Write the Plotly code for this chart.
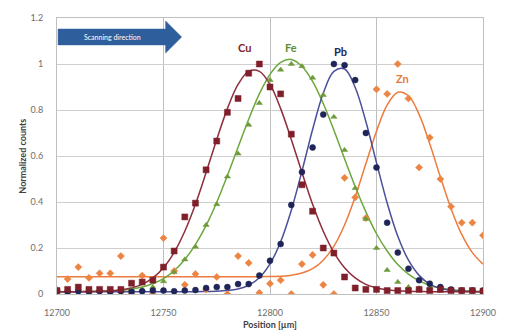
import plotly.graph_objects as go

# ---- data ----
position = [12700 + 5 * i for i in range(41)]

cu_points = [0.015, 0.02, 0.03, 0.02, 0.02, 0.02, 0.02, 0.047, 0.052, 0.06,
             0.117, 0.187, 0.335, 0.395, 0.54, 0.665, 0.79, 0.85, 0.96, 1.0,
             0.9, 0.87, 0.695, 0.475, 0.36, 0.2, 0.178, 0.074, 0.026, 0.02,
             0.02, 0.015, 0.015, 0.015, 0.02, 0.015, 0.02, 0.015, 0.015, 0.015, 0.012]
fe_points = [0.01, 0.01, 0.015, 0.01, 0.015, 0.01, 0.015, 0.02, 0.02, 0.03,
             0.055, 0.095, 0.15, 0.205, 0.30, 0.39, 0.51, 0.61, 0.735, 0.83,
             0.93, 0.975, 1.0, 0.99, 0.94, 0.865, 0.77, 0.626, 0.46, 0.326,
             0.2, 0.104, 0.052, 0.03, 0.025, 0.03, 0.025, 0.02, 0.015, 0.015, 0.015]
pb_points = [0.012, 0.01, 0.012, 0.01, 0.012, 0.01, 0.012, 0.01, 0.012, 0.015,
             0.015, 0.012, 0.015, 0.017, 0.026, 0.03, 0.03, 0.043, 0.043, 0.08,
             0.145, 0.217, 0.387, 0.53, 0.637, 0.78, 1.0, 0.995, 0.93, 0.70,
             0.55, 0.31, 0.18, 0.11, 0.06, 0.045, 0.03, 0.02, 0.015, 0.015, 0.015]
zn_points = [0.017, 0.065, 0.117, 0.07, 0.09, 0.09, 0.165, 0.0, 0.08, 0.0,
             0.243, 0.1, 0.04, 0.087, 0.02, 0.074, 0.0, 0.165, 0.135, 0.005,
             0.045, 0.06, 0.0, 0.13, 0.17, 0.04, 0.0, 0.505, 0.42, 0.33,
             0.89, 0.87, 1.0, 0.85, 0.55, 0.68, 0.50, 0.38, 0.31, 0.31, 0.255]

# fitted curves (at 5 µm steps)
cu_fit = [0.01, 0.01, 0.01, 0.011, 0.012, 0.014, 0.018, 0.027, 0.042, 0.070,
          0.114, 0.181, 0.273, 0.390, 0.528, 0.672, 0.806, 0.911, 0.968, 0.968,
          0.911, 0.806, 0.672, 0.528, 0.390, 0.273, 0.181, 0.114, 0.070, 0.042,
          0.027, 0.018, 0.014, 0.012, 0.011, 0.01, 0.01, 0.01, 0.01, 0.01, 0.01]
fe_fit = [0.01, 0.01, 0.01, 0.011, 0.012, 0.013, 0.016, 0.021, 0.030, 0.045,
          0.067, 0.101, 0.150, 0.215, 0.298, 0.399, 0.515, 0.638, 0.760, 0.870,
          0.955, 1.007, 1.02, 0.990, 0.924, 0.828, 0.712, 0.588, 0.467, 0.357,
          0.262, 0.187, 0.128, 0.086, 0.057, 0.038, 0.026, 0.019, 0.015, 0.012, 0.011]
pb_fit = [0.01, 0.01, 0.01, 0.01, 0.01, 0.01, 0.01, 0.01, 0.01, 0.01,
          0.01, 0.01, 0.01, 0.01, 0.011, 0.012, 0.015, 0.022, 0.038, 0.071,
          0.131, 0.227, 0.364, 0.534, 0.715, 0.873, 0.968, 0.978, 0.898, 0.750,
          0.571, 0.396, 0.251, 0.147, 0.081, 0.043, 0.024, 0.016, 0.012, 0.011, 0.01]
zn_fit = [0.075, 0.075, 0.075, 0.075, 0.075, 0.075, 0.075, 0.075, 0.075, 0.075,
          0.075, 0.075, 0.075, 0.075, 0.075, 0.075, 0.075, 0.075, 0.075, 0.075,
          0.076, 0.077, 0.082, 0.091, 0.110, 0.147, 0.208, 0.300, 0.423, 0.566,
          0.708, 0.821, 0.877, 0.862, 0.781, 0.653, 0.508, 0.371, 0.259, 0.180, 0.130]

x_ticks = [12700, 12750, 12800, 12850, 12900]
x_tick_labels = ["12700", "12750", "12800", "12850", "12900"]
y_ticks = [0, 0.2, 0.4, 0.6, 0.8, 1.0, 1.2]
y_tick_labels = ["0", "0.2", "0.4", "0.6", "0.8", "1", "1.2"]

FONT = "Lato, Open Sans, sans-serif"

series = [
    ("Zn", zn_points, zn_fit, "#EC8443", "#EE7B3E", "diamond", 5.5),
    ("Fe", fe_points, fe_fit, "#6E9B3A", "#6CA83C", "triangle-up", 5.5),
    ("Pb", pb_points, pb_fit, "#1F2558", "#4C4F99", "circle", 6),
    ("Cu", cu_points, cu_fit, "#7E1F2A", "#8E2D3C", "square", 6),
]

fig = go.Figure()
for name, pts, fit, mcol, lcol, sym, size in series:
    fig.add_trace(go.Scatter(x=position, y=fit, mode="lines", line=dict(color=lcol, width=1.5, shape="spline"),
                             name=name + " fit", showlegend=False, hoverinfo="skip"))
for name, pts, fit, mcol, lcol, sym, size in series:
    fig.add_trace(go.Scatter(x=position, y=pts, mode="markers",
                             marker=dict(symbol=sym, size=size, color=mcol,
                                         line=dict(color=mcol, width=0.5)),
                             name=name, showlegend=False))

labels = [("Cu", 12788, 1.07, "#7E1F2A"), ("Fe", 12810, 1.07, "#5E8F2E"),
          ("Pb", 12833, 1.055, "#1F2558"), ("Zn", 12862, 0.935, "#E8793D")]
for t, x, y, c in labels:
    fig.add_annotation(x=x, y=y, text="<b>" + t + "</b>", showarrow=False,
                       font=dict(family=FONT, size=11, color=c))

# scanning direction arrow
fig.add_shape(type="path",
              path="M 12700.5 1.083 L 12751 1.083 L 12751 1.048 L 12758.5 1.117 L 12751 1.187 L 12751 1.152 L 12700.5 1.152 Z",
              xref="x", yref="y", fillcolor="#2F5E9C", line=dict(color="#2F5E9C", width=0.5), layer="above")
fig.add_annotation(x=12726, y=1.117, text="Scanning direction", showarrow=False,
                   font=dict(family=FONT, size=7, color="white"))

fig.add_annotation(x=0.5, y=-0.112, xref="paper", yref="paper", yanchor="middle",
                   text="<b>Position [µm]</b>",
                   showarrow=False, font=dict(family=FONT, size=9, color="#404040"))
fig.add_annotation(x=-0.083, y=0.5, xref="paper", yref="paper", xanchor="center",
                   text="<b>Normalized counts</b>",
                   textangle=-90, showarrow=False, font=dict(family=FONT, size=9, color="#404040"))

fig.update_xaxes(range=[12700, 12900], tickvals=x_ticks, ticktext=x_tick_labels,
                 ticks="outside", ticklen=10, tickcolor="rgba(0,0,0,0)", showgrid=True,
                 gridcolor="#BFBFBF", gridwidth=1, showline=True, linecolor="#BFBFBF", mirror=True,
                 zeroline=False, tickfont=dict(family=FONT, size=9, color="#6E6E6E"))
fig.update_yaxes(range=[0, 1.2], tickvals=y_ticks, ticktext=y_tick_labels,
                 ticks="outside", ticklen=11, tickcolor="rgba(0,0,0,0)", showgrid=True,
                 gridcolor="#CFCFCF", gridwidth=1, showline=True, linecolor="#BFBFBF", mirror=True,
                 zeroline=False, tickfont=dict(family=FONT, size=9, color="#6E6E6E"))

fig.update_layout(width=508, height=333, margin=dict(l=57, r=19, t=18, b=39),
                  plot_bgcolor="white", paper_bgcolor="white", showlegend=False)

fig.write_html("out.html", config={"displayModeBar": False},
               post_script="document.body.style.margin='0';document.body.style.overflow='hidden';")
